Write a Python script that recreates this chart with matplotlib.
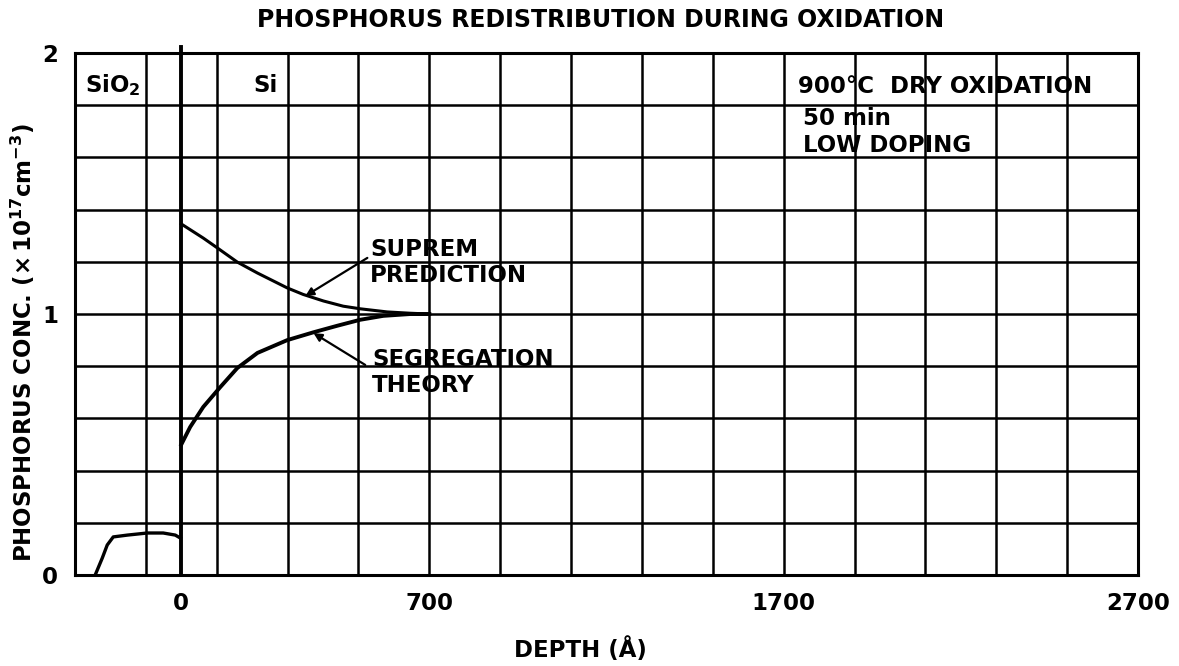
import matplotlib.pyplot as plt

plt.rcParams['font.family'] = 'DejaVu Sans'
plt.rcParams['font.weight'] = 'bold'
plt.rcParams['mathtext.fontset'] = 'dejavusans'

# phosphorus in the oxide
depth_sio2 = [-243, -223, -209, -192, -152, -96, -51, -17, -3]
conc_sio2 = [0.0, 0.065, 0.115, 0.146, 0.153, 0.161, 0.161, 0.153, 0.142]

# segregation theory in the silicon
depth_seg = [0, 25, 62, 110, 158, 215, 299, 373, 440, 505, 570, 646, 700]
conc_seg = [0.50, 0.567, 0.644, 0.72, 0.793, 0.851, 0.90, 0.93, 0.955, 0.978,
            0.993, 1.0, 1.0]

# SUPREM prediction in the silicon
depth_sup = [0, 62, 102, 158, 215, 299, 344, 401, 457, 505, 581, 646, 700]
conc_sup = [1.345, 1.291, 1.253, 1.199, 1.157, 1.10, 1.075, 1.05, 1.03, 1.02,
            1.008, 1.003, 1.0]

xtick_pos = [0, 700, 1700, 2700]
ytick_pos = [0, 1, 2]

fig = plt.figure(figsize=(11.79, 6.66), dpi=100)
ax = fig.add_axes([0.0636, 0.1366, 0.9017, 0.7838])
ax.set_xlim(-300, 2700)
ax.set_ylim(0, 2)

# graph paper
for x in range(-100, 2700, 200):
    ax.axvline(x, color='black', lw=1.8, zorder=1)
for y in [0.2, 0.4, 0.6, 0.8, 1.0, 1.2, 1.4, 1.6, 1.8]:
    ax.axhline(y, color='black', lw=1.8, zorder=1)
ax.axvline(0, ymin=0, ymax=1.012, color='black', lw=2.8, zorder=2, clip_on=False)

for s in ax.spines.values():
    s.set_linewidth(2.2)

ax.plot(depth_sio2, conc_sio2, color='black', lw=2.4, zorder=3,
        solid_joinstyle='round')
ax.plot(depth_seg, conc_seg, color='black', lw=2.8, zorder=3,
        solid_joinstyle='round')
ax.plot(depth_sup, conc_sup, color='black', lw=2.2, zorder=3,
        solid_joinstyle='round')

fs = 16.5
ax.set_xticks(xtick_pos)
ax.set_xticklabels([str(v) for v in xtick_pos], fontsize=fs, fontweight='bold')
ax.set_yticks(ytick_pos)
ax.set_yticklabels([str(v) for v in ytick_pos], fontsize=fs, fontweight='bold')
ax.tick_params(length=0, pad=12)

arrow = dict(arrowstyle='-|>', color='black', lw=1.6, mutation_scale=12,
             shrinkA=0, shrinkB=0)
ax.annotate('SUPREM\nPREDICTION', xy=(350, 1.069), xytext=(533, 1.29),
            fontsize=fs, va='top', ha='left', linespacing=1.15, zorder=4)
ax.annotate('', xy=(350, 1.069), xytext=(525, 1.215), arrowprops=arrow)
ax.annotate('SEGREGATION\nTHEORY', xy=(373, 0.927), xytext=(539, 0.87),
            fontsize=fs, va='top', ha='left', linespacing=1.15, zorder=4)
ax.annotate('', xy=(373, 0.927), xytext=(519, 0.805), arrowprops=arrow)

ax.text(-271, 1.877, r'$\mathbf{SiO_2}$', fontsize=fs, va='center', ha='left')
ax.text(203, 1.877, 'Si', fontsize=fs, va='center', ha='left')
ax.text(1739, 1.87, '900°C  DRY OXIDATION', fontsize=fs, va='center', ha='left')
ax.text(1755, 1.75, '50 min', fontsize=fs, va='center', ha='left')
ax.text(1755, 1.647, 'LOW DOPING', fontsize=fs, va='center', ha='left')

fig.text(0.509, 0.97, 'PHOSPHORUS REDISTRIBUTION DURING OXIDATION',
         fontsize=17, ha='center', va='center')
fig.text(0.492, 0.024, 'DEPTH (Å)', fontsize=fs, ha='center', va='center')
fig.text(0.019, 0.485, r'PHOSPHORUS CONC. ($\mathbf{\times\,10^{17} cm^{-3}}$)',
         fontsize=fs, rotation=90, ha='center', va='center')

fig.savefig('out.png', dpi=100)
